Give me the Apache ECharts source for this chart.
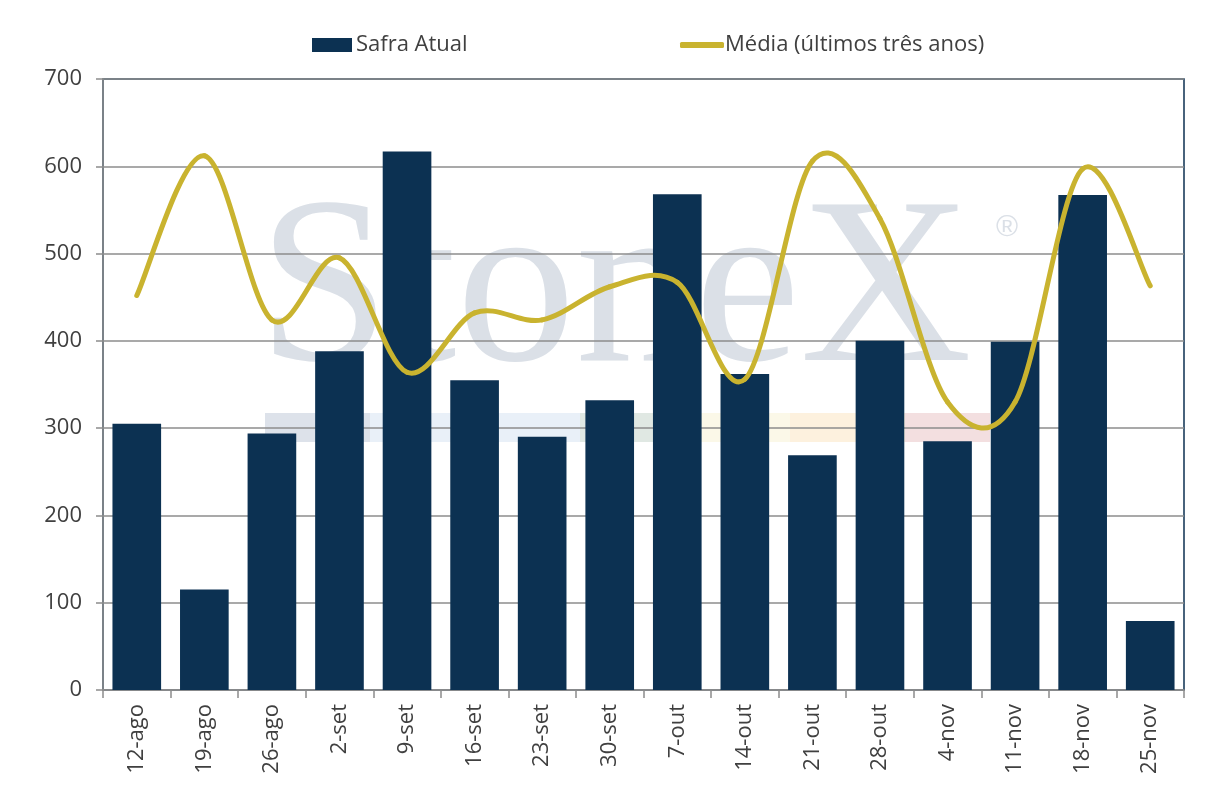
<!DOCTYPE html>
<html>
<head>
<meta charset="utf-8">
<script src="https://cdn.jsdelivr.net/npm/echarts@6/dist/echarts.min.js"></script>
<style>
html,body{margin:0;padding:0;background:#fff;}
#chart{width:1219px;height:810px;}
</style>
</head>
<body>
<div id="chart"></div>
<script>
const categories = ['12-ago','19-ago','26-ago','2-set','9-set','16-set','23-set','30-set','7-out','14-out','21-out','28-out','4-nov','11-nov','18-nov','25-nov'];
const safraAtual = [305, 115, 294, 388, 617, 355, 290, 332, 568, 362, 269, 400, 285, 399, 567, 79];
const mediaTresAnos = [452, 612, 424, 495, 364, 432, 424, 462, 467, 356, 606, 540, 330, 330, 597, 463];
const yTicks = [0, 100, 200, 300, 400, 500, 600, 700];

const FONT = '"Open Sans", "Noto Sans", sans-serif';
const TEXT = '#404040';
const NAVY = '#0c3152';
const GOLD = '#c9b32f';
const GRID = '#8c8c8c';

// Smoothed line (Excel-like Catmull-Rom), positioned through the library's own scales (api.coord)
function renderSmoothSegment(params, api) {
  const n = mediaTresAnos.length;
  const i = params.dataIndex;
  if (i >= n - 1) return null;
  const c = k => Math.max(0, Math.min(n - 1, k));
  const p = k => api.coord([c(k), mediaTresAnos[c(k)]]);
  const p0 = p(i - 1), p1 = p(i), p2 = p(i + 1), p3 = p(i + 2);
  const f = 1 / 6;
  return {
    type: 'bezierCurve',
    shape: {
      x1: p1[0], y1: p1[1], x2: p2[0], y2: p2[1],
      cpx1: p1[0] + (p2[0] - p0[0]) * f, cpy1: p1[1] + (p2[1] - p0[1]) * f,
      cpx2: p2[0] - (p3[0] - p1[0]) * f, cpy2: p2[1] - (p3[1] - p1[1]) * f
    },
    style: {stroke: GOLD, lineWidth: 5, fill: null, lineCap: 'round', lineJoin: 'round'}
  };
}

const chart = echarts.init(document.getElementById('chart'), null, {renderer: 'canvas'});
chart.setOption({
  backgroundColor: '#fff',
  animation: false,
  textStyle: {fontFamily: FONT},
  graphic: [
    {type: 'group', z: -10, silent: true, children: [
      {type: 'rect', shape: {x: 265, y: 413, width: 105, height: 29}, style: {fill: '#dde2ea'}},
      {type: 'rect', shape: {x: 370, y: 413, width: 210, height: 29}, style: {fill: '#e9f0f8'}},
      {type: 'rect', shape: {x: 580, y: 413, width: 120, height: 29}, style: {fill: '#e0e8e3'}},
      {type: 'rect', shape: {x: 700, y: 413, width: 90, height: 29}, style: {fill: '#fbf8e8'}},
      {type: 'rect', shape: {x: 790, y: 413, width: 115, height: 29}, style: {fill: '#fdf1de'}},
      {type: 'rect', shape: {x: 905, y: 413, width: 85, height: 29}, style: {fill: '#f3dfe0'}},
      {type: 'text', x: 258, y: 416, style: {text: 'StoneX', font: '238px "Liberation Serif", "DejaVu Serif", serif', fill: '#dbe0e7', verticalAlign: 'bottom', align: 'left'}},
      {type: 'text', x: 996, y: 213, style: {text: '®', font: '30px "Liberation Sans", sans-serif', fill: '#dbe0e7'}}
    ]}
  ],
  legend: [
    {
      data: [{name: 'Safra Atual', itemStyle: {color: NAVY}}],
      left: 307, top: 29,
      icon: 'rect', itemWidth: 40, itemHeight: 14,
      textStyle: {fontSize: 22, color: TEXT, fontFamily: FONT, padding: [0,0,0,-1]}
    },
    {
      data: [{name: 'Média (últimos três anos)', itemStyle: {color: GOLD}}],
      left: 675, top: 29,
      icon: 'roundRect', itemWidth: 44, itemHeight: 6,
      textStyle: {fontSize: 22, color: TEXT, fontFamily: FONT, padding: [0,0,0,-4]}
    }
  ],
  grid: {
    left: 103, right: 35, top: 79, bottom: 120,
    show: true, borderColor: NAVY, borderWidth: 1.5, containLabel: false
  },
  xAxis: {
    type: 'category',
    data: categories,
    axisLine: {show: true, lineStyle: {color: GRID, width: 1.5}},
    axisTick: {show: true, length: 8, lineStyle: {color: GRID, width: 1.5}},
    axisLabel: {rotate: 90, fontSize: 22, color: TEXT, margin: 14, fontFamily: FONT}
  },
  yAxis: {
    type: 'value',
    min: 0, max: 700, interval: 100,
    axisLine: {show: true, lineStyle: {color: GRID, width: 1.5}},
    axisTick: {show: true, length: 7, lineStyle: {color: GRID, width: 1.5}},
    axisLabel: {fontSize: 22, color: TEXT, margin: 21, fontFamily: FONT,
      formatter: v => yTicks.includes(v) ? String(v) : ''},
    splitLine: {show: true, lineStyle: {color: GRID, width: 1.5}}
  },
  series: [
    {
      name: 'Safra Atual',
      type: 'bar',
      data: safraAtual,
      barWidth: '72%',
      itemStyle: {color: NAVY},
      z: 2
    },
    {
      name: 'Média (últimos três anos)',
      type: 'custom',
      data: mediaTresAnos.map((v, i) => [i, v]),
      encode: {x: 0, y: 1},
      renderItem: renderSmoothSegment,
      itemStyle: {color: GOLD},
      z: 3
    }
  ]
});
</script>
</body>
</html>
